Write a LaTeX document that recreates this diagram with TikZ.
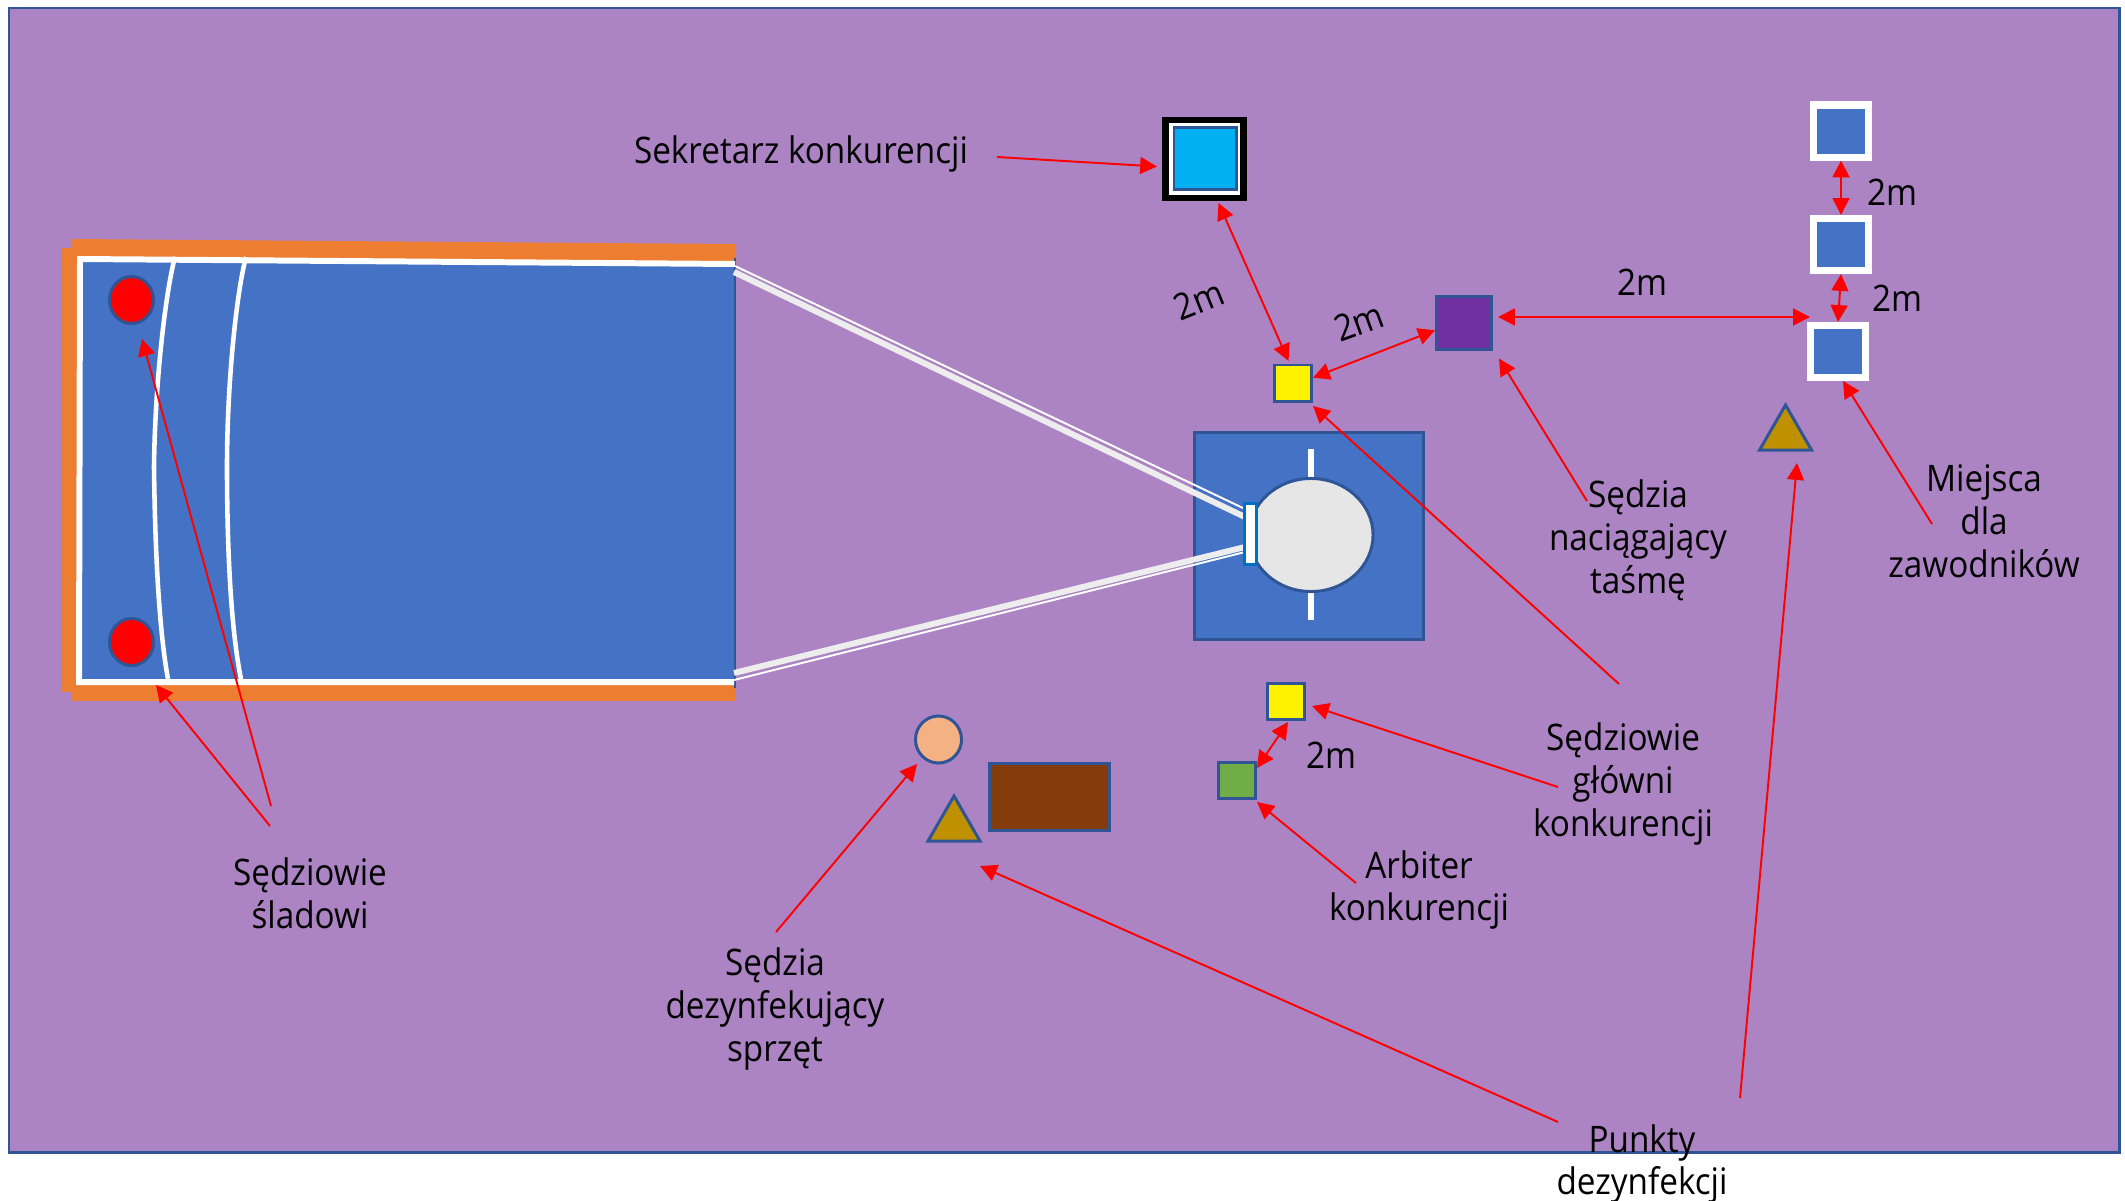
\documentclass[tikz,border=0pt]{standalone}
\usepackage{fontspec}
\setmainfont[FakeStretch=0.91]{Open Sans}
\usepackage{tikz}
\usetikzlibrary{arrows.meta,shapes.geometric}
\definecolor{tlo}{HTML}{AC84C4}
\definecolor{ramka}{HTML}{2F5597}
\definecolor{woda}{HTML}{4472C4}
\definecolor{pomarancz}{HTML}{ED7D31}
\tikzset{
    %Define standard arrow tip
    >={Triangle[length=4.8pt,width=4.8pt]},
    %Define style for boxes
    box/.style={
           rectangle,
           draw=ramka,
           line width=.85pt,
           inner sep=0pt},
    yellowbox/.style={
           box,
           minimum width=.37cm,
           minimum height=.36cm,
           fill=yellow},
    playerbox/.style={
           rectangle,
           draw=white,
           line width=2pt,
           inner sep=0pt,
           minimum width=.555cm,
           minimum height=.52cm,
           fill=woda},
    redspot/.style={
           ellipse,
           draw=ramka,
           line width=.85pt,
           inner sep=0pt,
           minimum width=.44cm,
           minimum height=.47cm,
           fill=red},
    disinfect/.style={
           regular polygon,
           regular polygon sides=3,
           draw=ramka,
           line width=.85pt,
           inner sep=0pt,
           minimum size=.6cm,
           fill={rgb,255:red,191;green,144;blue,0}},
    napis/.style={
           font=\fontsize{10.4}{12.2}\selectfont,
           align=center,
           text=black,
           inner sep=0pt},
    % Define arrow style
    pil1/.style={
           ->,
           draw=red,
           line width=.55pt},
    pil2/.style={
           <->,
           draw=red,
           line width=.55pt}
}
\begin{document}
\begin{tikzpicture}[x=.01cm,y=-.01cm]
\useasboundingbox (0,0) rectangle (2125,1200);
%hall
\draw[ramka,line width=.85pt,fill=tlo] (9,8) rectangle (2119,1152);
%pool
\fill[pomarancz] (71,239) -- (736,244) -- (736,266) -- (71,262) -- cycle;
\fill[pomarancz] (62,248) rectangle (82,692);
\fill[pomarancz] (71,680) rectangle (735,701);
\fill[woda] (80,260) -- (735,265) -- (735,682) -- (80,682) -- cycle;
\draw[ramka,line width=.7pt] (735,258) -- (735,688);
\draw[white,line width=1.7pt] (735,264) -- (80,259) -- (79,682) -- (734,682);
\draw[white,line width=1.3pt] (175,257) .. controls (166,290) and (155,380) .. (154,467)
    .. controls (155,550) and (159,630) .. (168,679);
\draw[white,line width=1.3pt] (246,257) .. controls (237,290) and (227,380) .. (227,467)
    .. controls (227,550) and (231,630) .. (241,679);
\node[redspot](spot1) at (131.5,300){};
\node[redspot](spot2) at (131.5,642){};
%start block
\node[box,fill=woda,minimum width=2.28cm,minimum height=2.07cm](block) at (1309,536){};
\draw[white,line width=1.5pt] (1311,449) -- (1311,477);
\draw[white,line width=1.5pt] (1311,592) -- (1311,620);
\node[ellipse,draw=ramka,line width=.85pt,fill={rgb,255:red,231;green,230;blue,230},inner sep=0pt,minimum width=1.24cm,minimum height=1.13cm](circle) at (1311,535){};
%lane ropes
\draw[white!93!black,line width=1.7pt] (734,272) -- (1245,517);
\draw[white,line width=.55pt] (735,266) -- (1245,509);
\draw[white!93!black,line width=1.7pt] (734,673) -- (1245,547);
\draw[white,line width=.55pt] (734,680) -- (1245,552);
\node[rectangle,draw={rgb,255:red,0;green,112;blue,192},line width=.85pt,fill=white,inner sep=0pt,minimum width=.12cm,minimum height=.6cm](board) at (1250,534){};
%people
\node[rectangle,draw=black,line width=1.9pt,fill=white,inner sep=0pt,minimum width=.775cm,minimum height=.78cm](secretary) at (1204.5,159){};
\node[box,fill={rgb,255:red,0;green,176;blue,240},minimum width=.62cm,minimum height=.61cm](secretaryin) at (1205,158.5){};
\node[yellowbox](judge1) at (1293,383){};
\node[box,fill={rgb,255:red,112;green,48;blue,160},minimum width=.55cm,minimum height=.53cm](tape) at (1464,323){};
\node[playerbox](player1) at (1841,131){};
\node[playerbox](player2) at (1841,244.5){};
\node[playerbox](player3) at (1838,351.5){};
\node[disinfect](disinf1) at (1785.5,435){};
\node[yellowbox](judge2) at (1285.5,701.5){};
\node[box,fill={rgb,255:red,112;green,173;blue,71},minimum width=.37cm,minimum height=.36cm](arbiter) at (1237,780.5){};
\node[ellipse,draw=ramka,line width=.85pt,inner sep=0pt,fill={rgb,255:red,244;green,177;blue,131},minimum width=.46cm,minimum height=.47cm](cleaner) at (938.5,739.5){};
\node[disinfect](disinf2) at (954,826){};
\node[box,fill={rgb,255:red,132;green,60;blue,12},minimum width=1.2cm,minimum height=.67cm](table) at (1049.5,797){};
%labels
\node[napis](lsecretary) at (801,154){Sekretarz konkurencji};
\node[napis,rotate=22](d1) at (1199,300){2m};
\node[napis,rotate=20](d2) at (1359,322){2m};
\node[napis](d3) at (1642,282){2m};
\node[napis](d4) at (1892,192){2m};
\node[napis](d5) at (1897,298){2m};
\node[napis](d6) at (1331,755){2m};
\node[napis](ltape) at (1638,540){Sędzia\\naciągający\\taśmę};
\node[napis](lplayers) at (1984,521){Miejsca\\dla\\zawodników};
\node[napis](ljudges) at (1623,784){Sędziowie\\główni\\konkurencji};
\node[napis](larbiter) at (1419,890){Arbiter\\konkurencji};
\node[napis](llane) at (310,893){Sędziowie\\śladowi};
\node[napis](lcleaner) at (775,1009){Sędzia\\dezynfekujący\\sprzęt};
\node[napis](lpoints) at (1642,1164){Punkty\\dezynfekcji};
%free ends of the arrows
\coordinate (c1) at (997,157);
\coordinate (c2) at (1587,501);
\coordinate (c3) at (1932,524);
\coordinate (c4) at (1619,684);
\coordinate (c5) at (1558,787);
\coordinate (c6) at (1356,883);
\coordinate (c7) at (776,932);
\coordinate (c8) at (1558,1122);
\coordinate (c9) at (1740,1098);
\coordinate (c10) at (271,806);
\coordinate (c11) at (270,826);
\coordinate (e1) at (1498,317);
\coordinate (e2) at (1810,317);
\coordinate (e3) at (1499,358.5);
\coordinate (e4) at (1313,406);
\coordinate (e5) at (1312,706);
\coordinate (e6) at (1257,802);
\coordinate (e7) at (917,764);
\coordinate (e8) at (980,866);
\coordinate (e9) at (1797,463);
\coordinate (e10) at (142,339);
\coordinate (e11) at (156,685);
\coordinate (e12) at (1157,166.5);
\coordinate (e13) at (1218.5,203);
\coordinate (e14) at (1288.5,361);
\coordinate (e15) at (1843,381);
\coordinate (e16) at (1288,722);
\coordinate (e17) at (1257,768);
%arrows
\path[every edge/.style={pil1}]
    (c1) edge (e12)
    (c2) edge (e3)
    (c3) edge (e15)
    (c4) edge (e4)
    (c5) edge (e5)
    (c6) edge (e6)
    (c7) edge (e7)
    (c8) edge (e8)
    (c9) edge (e9)
    (c10) edge (e10)
    (c11) edge (e11);
\path[every edge/.style={pil2}]
    (e13) edge (e14)
    (judge1.15) edge (tape.194)
    (e1) edge (e2)
    (player1.south) edge (player2.north)
    (player2.south) edge (player3.north)
    (e16) edge (e17);
\end{tikzpicture}
\end{document}
